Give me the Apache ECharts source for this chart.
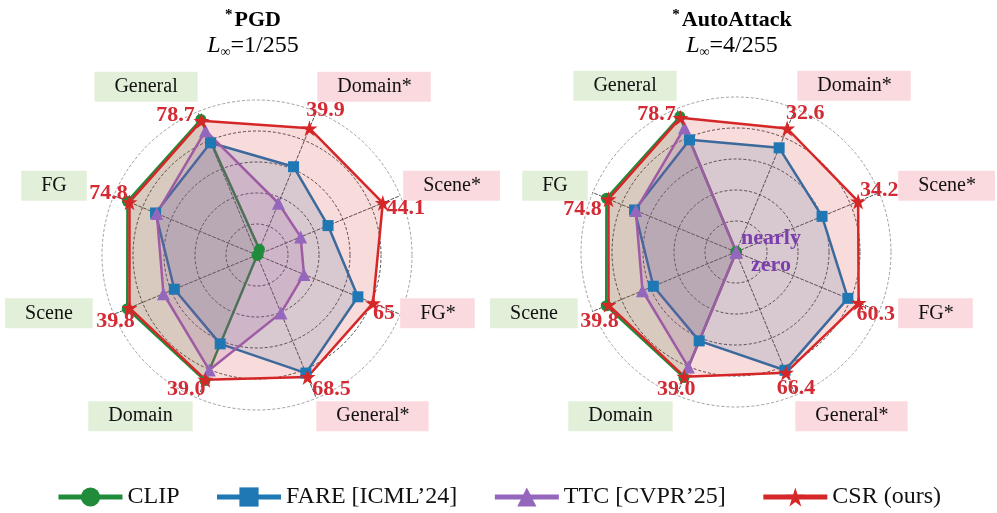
<!DOCTYPE html>
<html><head><meta charset="utf-8">
<script src="https://cdn.jsdelivr.net/npm/echarts@6/dist/echarts.min.js"></script>
<style>html,body{margin:0;padding:0;background:#fff}#c{width:997px;height:513px}</style>
</head><body><div id="c"></div>
<script>
// ---------------- data ----------------
const indicators = ['General', 'FG', 'Scene', 'Domain', 'General*', 'FG*', 'Scene*', 'Domain*'];
const maxPGD = [84, 84, 44.7, 44.8, 80.4, 80.2, 50.2, 45.1];
const maxAA  = [84, 84, 44.7, 44.8, 78.8, 70.4, 40.1, 37.8];

const clipPGD = [79.5, 76.0, 40.5, 39.3, 0.2, 0.2, 0.4, 1.8];
const farePGD = [65.8, 59.5, 25.8, 27.8, 66.3, 56.5, 24.9, 27.8];
const ttcPGD  = [72.9, 58.8, 29.2, 36.0, 32.5, 26.3, 15.3, 16.3];
const csrPGD  = [78.7, 74.8, 39.8, 39.0, 68.5, 65, 44.1, 39.9];
const csrTextPGD = ['78.7', '74.8', '39.8', '39.0', '68.5', '65', '44.1', '39.9'];

const clipAA = [79.5, 76.0, 40.5, 39.3, 0.1, 0.1, 0.1, 0.1];
const fareAA = [65.8, 59.5, 25.8, 27.8, 65.1, 55.0, 24.1, 27.5];
const ttcAA  = [72.9, 58.8, 29.2, 36.0, 0.1, 0.1, 0.1, 0.1];
const csrAA  = [78.7, 74.8, 39.8, 39.0, 66.4, 60.3, 34.2, 32.6];
const csrTextAA = ['78.7', '74.8', '39.8', '39.0', '66.4', '60.3', '34.2', '32.6'];

const methods = ['CLIP', 'FARE [ICML\u201924]', 'TTC [CVPR\u201925]', 'CSR (ours)'];

// ---------------- style / layout ----------------
const SERIF = 'Liberation Serif, Times New Roman, serif';
const COLORS = ['#1f8b3b', '#1f77b4', '#9467bd', '#d62728'];
const STAR = 'path://M0,-1 L0.2245,-0.309 L0.951,-0.309 L0.3633,0.118 L0.5878,0.809 L0,0.382 L-0.5878,0.809 L-0.3633,0.118 L-0.951,-0.309 L-0.2245,-0.309 Z';
const SYMBOLS = ['circle', 'rect', 'triangle', STAR];
const SYMSIZE = [11, 11, 13, 16];
const GREEN_BOX = '#e3f0d9';
const PINK_BOX = '#fadadf';
const LABEL_RED = '#d42a33';

const layout = [
  { center: [257, 255],
    nameOffs: [[0, -25], [27, -10], [21, -1], [5, 18], [0, 18], [0, -1], [3, -10], [1, -25]],
    labelOffs: [[-26, -6], [-21, -9], [-14, 13], [-19, 10], [24, 12], [11, 10], [23, 5], [16, -18]] },
  { center: [736, 252],
    nameOffs: [[0, -23], [5, -7], [15, 2], [4, 21], [0, 21], [19, 2], [19, -7], [2, -23]],
    labelOffs: [[-24, -4], [-26, 10], [-9, 16], [-8, 13], [10, 16], [17, 12], [21, -11], [18, -15]] }
];

function axisNameCfg(offs) {
  const base = { fontSize: 20, lineHeight: 23, fontFamily: SERIF, color: '#111' };
  const rich = {
    gn: Object.assign({ backgroundColor: GREEN_BOX, padding: [5, 20, 5, 20] }, base),
    pb: Object.assign({ backgroundColor: PINK_BOX, padding: [5, 19, 5, 20] }, base)
  };
  offs.forEach(([h, v]) => {
    if (h > 0) rich['h' + h] = { width: h, height: 1, fontSize: 1, lineHeight: 1 };
    if (v !== 0) { const a = Math.abs(v); rich['v' + a] = { height: 2 * a, fontSize: 1, lineHeight: 2 * a }; }
  });
  return {
    rich,
    formatter: function (name) {
      const i = indicators.indexOf(name);
      const [h, v] = offs[i];
      const starred = name.endsWith('*');
      const box = starred ? '{pb|' + name + '}' : '{gn|' + name + '}';
      const hs = h > 0 ? '{h' + h + '| }' : '';
      const line = starred ? hs + box : box + hs;
      if (v < 0) return line + '\n{v' + (-v) + '| }';
      if (v > 0) return '{v' + v + '| }\n' + line;
      return line;
    }
  };
}

function valueLabel(vals, texts, offs) {
  const rich = {};
  offs.forEach(([dx, dy], i) => {
    rich['l' + i] = {
      fontFamily: SERIF, fontSize: 22, fontWeight: 'bold', color: LABEL_RED,
      padding: [Math.max(0, 2 * dy), Math.max(0, -2 * dx), Math.max(0, -2 * dy), Math.max(0, 2 * dx)]
    };
  });
  return {
    show: true, position: 'inside', color: LABEL_RED,
    fontFamily: SERIF, fontSize: 22, fontWeight: 'bold', rich,
    formatter: function (p) {
      const i = vals.indexOf(p.value);
      return i < 0 ? '' : '{l' + i + '|' + texts[i] + '}';
    }
  };
}

function radarCfg(k, maxes) {
  const nm = axisNameCfg(layout[k].nameOffs);
  return {
    center: layout[k].center, radius: 155, startAngle: 112.5, splitNumber: 5, shape: 'circle',
    indicator: indicators.map((n, i) => ({ name: n, min: 0, max: maxes[i] })),
    axisNameGap: 0,
    axisName: { formatter: nm.formatter, rich: nm.rich, color: '#111', fontFamily: SERIF },
    axisLine: { lineStyle: { color: '#222', type: [3, 2], width: 0.8 } },
    splitLine: { lineStyle: { color: ['#222', '#222', '#222', '#222', '#222', '#888'], type: [3, 2], width: 0.8 } },
    splitArea: { show: false },
    axisTick: { show: false },
    axisLabel: { show: false }
  };
}

const sets = [
  [clipPGD, farePGD, ttcPGD, csrPGD],
  [clipAA, fareAA, ttcAA, csrAA]
];
const csrTexts = [csrTextPGD, csrTextAA];

const series = [];
// legend carriers (no data) so that legend icons show line + marker
methods.forEach((m, j) => {
  series.push({
    type: 'line', name: m, data: [], symbol: SYMBOLS[j], symbolSize: 20,
    color: COLORS[j], lineStyle: { color: COLORS[j], width: 5 }, itemStyle: { color: COLORS[j] }
  });
});
sets.forEach((vals, k) => {
  vals.forEach((v, j) => {
    const s = {
      type: 'radar', radarIndex: k, name: methods[j],
      symbol: SYMBOLS[j], symbolSize: SYMSIZE[j],
      color: COLORS[j],
      lineStyle: { color: COLORS[j], width: 2.5 },
      itemStyle: { color: COLORS[j] },
      areaStyle: { color: COLORS[j], opacity: 0.17 },
      emphasis: { disabled: true },
      data: [{ name: methods[j], value: v }]
    };
    if (j === 3) s.label = valueLabel(v, csrTexts[k], layout[k].labelOffs);
    series.push(s);
  });
});

const titleRich = {
  s: { fontFamily: SERIF, fontSize: 15, fontWeight: 'bold', color: '#000', verticalAlign: 'top', padding: [0, 2, 0, 0] },
  b: { fontFamily: SERIF, fontSize: 22, fontWeight: 'bold', color: '#000', lineHeight: 24 }
};
const subRich = {
  i: { fontFamily: SERIF, fontSize: 24, fontStyle: 'italic', color: '#000', lineHeight: 26 },
  u: { fontFamily: SERIF, fontSize: 14, fontStyle: 'italic', color: '#000', verticalAlign: 'bottom' },
  r: { fontFamily: SERIF, fontSize: 24, color: '#000', lineHeight: 26 }
};

const option = {
  backgroundColor: '#fff',
  animation: false,
  title: [
    { text: '{s|*}{b|PGD}', subtext: '{i|L}{u|\u221e}{r|=1/255}', left: 248, top: 3, textAlign: 'center', itemGap: 2,
      textStyle: { rich: titleRich }, subtextStyle: { rich: subRich } },
    { text: '{s|*}{b|AutoAttack}', subtext: '{i|L}{u|\u221e}{r|=4/255}', left: 727, top: 3, textAlign: 'center', itemGap: 2,
      textStyle: { rich: titleRich }, subtextStyle: { rich: subRich } }
  ],
  legend: {
    data: methods, top: 480, left: 'center', itemWidth: 64, itemHeight: 24, itemGap: 35,
    textStyle: { fontFamily: SERIF, fontSize: 24, color: '#111' },
    lineStyle: { width: 5 }
  },
  grid: { left: -100, top: -100, width: 10, height: 10, show: false },
  xAxis: { show: false, type: 'value' },
  yAxis: { show: false, type: 'value' },
  radar: [radarCfg(0, maxPGD), radarCfg(1, maxAA)],
  graphic: [{
    type: 'text', x: 771, y: 252, z: 100,
    style: { text: 'nearly\nzero', fill: '#7b3fae', font: 'bold 22px ' + SERIF, align: 'center', verticalAlign: 'middle', lineHeight: 27 }
  }],
  series
};

const chart = echarts.init(document.getElementById('c'), null, { renderer: 'canvas' });
chart.setOption(option);
</script>
</body></html>
